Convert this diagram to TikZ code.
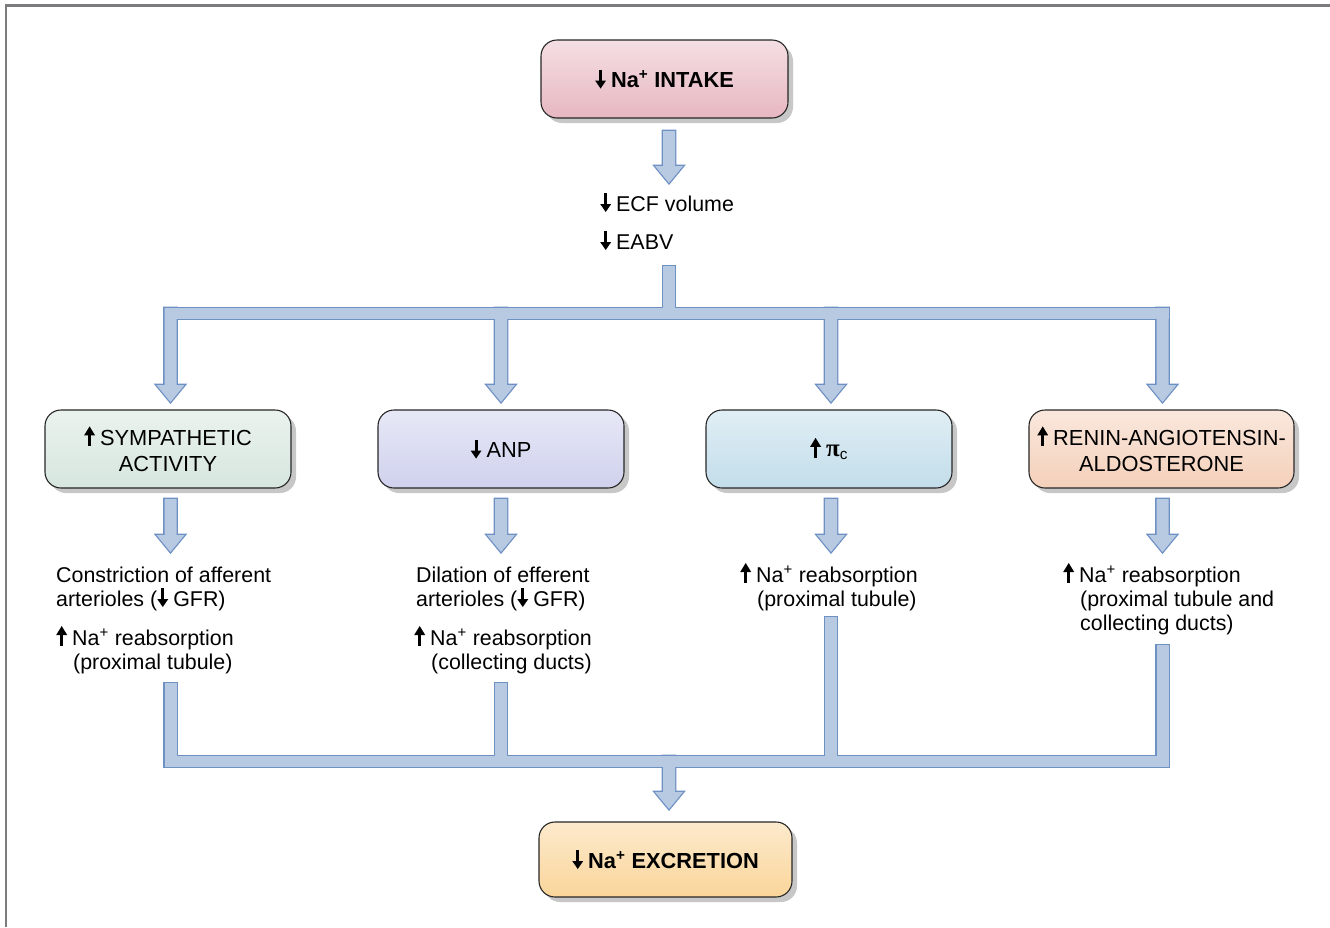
\documentclass[tikz,border=0pt]{standalone}
\usepackage{fontspec}
\setmainfont{Liberation Sans}
\newfontfamily\pifont{Liberation Serif}
\usetikzlibrary{calc,shadows}
\definecolor{afill}{HTML}{B8C9E2}
\definecolor{aedge}{HTML}{6E91C4}
\definecolor{cpink}{HTML}{E7B7C1}
\definecolor{cgreen}{HTML}{D6E6DE}
\definecolor{clav}{HTML}{CFD1ED}
\definecolor{cblue}{HTML}{C2DDEA}
\definecolor{cpeach}{HTML}{F4D0BA}
\definecolor{corange}{HTML}{FAD59A}
\definecolor{framegray}{HTML}{7C7C7E}
\newcommand\dnA{\tikz[x=1pt,y=1pt,baseline=0pt,sharp corners]{\fill[black] (-1.5,18) rectangle (1.5,6); \fill[black] (-5.5,7) -- (5.5,7) -- (0,-1) -- cycle;}\hspace{5pt}}
\newcommand\upA{\tikz[x=1pt,y=1pt,baseline=0pt,sharp corners]{\fill[black] (-1.5,-1) rectangle (1.5,11); \fill[black] (-5.5,10) -- (5.5,10) -- (0,19) -- cycle;}\hspace{5pt}}
\newcommand\blkarrow[3]{\path[#3] ($(#1)+(-6,0)$) -- ($(#1)+(6,0)$) -- ($(#2)+(6,-17)$) -- ($(#2)+(14,-17)$) -- (#2) -- ($(#2)+(-14,-17)$) -- ($(#2)+(-6,-17)$) -- cycle;}
\newcommand\vbar[3]{\path[#3] ($(#1)+(-6,0)$) rectangle ($(#2)+(6,0)$);}
\begin{document}
\begin{tikzpicture}[x=1pt,y=-1pt,
  box/.style={rounded corners=16pt, draw=black!85, line width=1.1pt, minimum height=78pt,
    inner sep=0pt, align=center, font=\fontsize{21.8}{26}\selectfont,
    drop shadow={shadow xshift=5pt, shadow yshift=-5pt, fill=black, opacity=0.22}},
  txt/.style={inner sep=0pt, align=left, font=\fontsize{21.4}{24}\selectfont, anchor=base west},
  line join=miter]
\useasboundingbox (0,0) rectangle (1330,927);
\draw[framegray, line width=2.7pt] (6,927) -- (6,5.3) -- (1330,5.3);

% ---------- boxes ----------
\node[box, minimum width=247pt, top color=cpink!45!white, bottom color=cpink] (top) at (664.5,79) {\bfseries\dnA Na\textsuperscript{+} INTAKE};
\node[box, minimum width=246pt, top color=cgreen!50!white, bottom color=cgreen] (symp) at (168,449) {\upA SYMPATHETIC\\ACTIVITY};
\node[box, minimum width=246pt, top color=clav!50!white, bottom color=clav] (anp) at (501,449) {\dnA ANP};
\node[box, minimum width=246pt, top color=cblue!50!white, bottom color=cblue] (pic) at (829,449) {\upA{\pifont\bfseries\fontsize{25}{26}\selectfont π}\textsubscript{c}};
\node[box, minimum width=265pt, top color=cpeach!50!white, bottom color=cpeach] (raas) at (1161.5,449) {\upA RENIN-ANGIOTENSIN-\\ALDOSTERONE};
\node[box, minimum width=253pt, minimum height=75pt, top color=corange!50!white, bottom color=corange] (exc) at (665.5,859.5) {\bfseries\dnA Na\textsuperscript{+} EXCRETION};

% ---------- texts (base anchor = baseline of last line) ----------
\node[txt] (ecf) at (600,211) {\dnA ECF volume};
\node[txt] (eabv) at (600,249) {\dnA EABV};
\node[txt] (c1a) at (56,606) {Constriction of afferent\\arterioles (\dnA GFR)};
\node[txt] (c1b) at (56,669) {\upA Na\textsuperscript{+} reabsorption\\\hspace*{17pt}(proximal tubule)};
\node[txt] (c2a) at (416,606) {Dilation of efferent\\arterioles (\dnA GFR)};
\node[txt] (c2b) at (414,669) {\upA Na\textsuperscript{+} reabsorption\\\hspace*{17pt}(collecting ducts)};
\node[txt] (c3) at (740,606) {\upA Na\textsuperscript{+} reabsorption\\\hspace*{17pt}(proximal tubule)};
\node[txt] (c4) at (1063,630) {\upA Na\textsuperscript{+} reabsorption\\\hspace*{17pt}(proximal tubule and\\\hspace*{17pt}collecting ducts)};

% ---------- connector points ----------
\coordinate (s0) at (669,131); \coordinate (t0) at (669,183);
\coordinate (st1) at (669,266); \coordinate (st2) at (669,319);
\coordinate (barA) at (164.5,308); \coordinate (barB) at (1168.5,319);
\coordinate (h1) at (170.5,308); \coordinate (h1t) at (170.5,402);
\coordinate (h2) at (501,308); \coordinate (h2t) at (501,402);
\coordinate (h3) at (831,308); \coordinate (h3t) at (831,402);
\coordinate (h4) at (1162.5,308); \coordinate (h4t) at (1162.5,402);
\coordinate (u1) at (170.5,499); \coordinate (u1t) at (170.5,552);
\coordinate (u2) at (501,499); \coordinate (u2t) at (501,552);
\coordinate (u3) at (831,499); \coordinate (u3t) at (831,552);
\coordinate (u4) at (1162.5,499); \coordinate (u4t) at (1162.5,552);
\coordinate (d1) at (170.5,683); \coordinate (d1b) at (170.5,767);
\coordinate (d2) at (501,683); \coordinate (d2b) at (501,767);
\coordinate (d3) at (831,617); \coordinate (d3b) at (831,767);
\coordinate (d4) at (1162.5,645); \coordinate (d4b) at (1162.5,767);
\coordinate (bbA) at (164.5,756); \coordinate (bbB) at (1168.5,767);
\coordinate (e0) at (669,756); \coordinate (e0t) at (669,809);

\newcommand\allarrows[1]{%
  \blkarrow{s0}{t0}{#1}
  \vbar{st1}{st2}{#1}
  \path[#1] (barA) rectangle (barB);
  \blkarrow{h1}{h1t}{#1}\blkarrow{h2}{h2t}{#1}\blkarrow{h3}{h3t}{#1}\blkarrow{h4}{h4t}{#1}
  \blkarrow{u1}{u1t}{#1}\blkarrow{u2}{u2t}{#1}\blkarrow{u3}{u3t}{#1}\blkarrow{u4}{u4t}{#1}
  \vbar{d1}{d1b}{#1}\vbar{d2}{d2b}{#1}\vbar{d3}{d3b}{#1}\vbar{d4}{d4b}{#1}
  \path[#1] (bbA) rectangle (bbB);
  \blkarrow{e0}{e0t}{#1}
}
\allarrows{draw=aedge, line width=2.6pt}
\allarrows{fill=afill}
\end{tikzpicture}
\end{document}
